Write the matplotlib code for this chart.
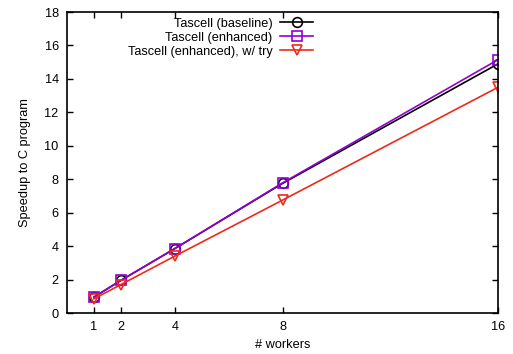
import matplotlib
matplotlib.use("Agg")
import matplotlib.pyplot as plt

plt.rcParams['font.family'] = ['Liberation Sans', 'DejaVu Sans']
plt.rcParams['font.size'] = 9.2

workers = [1, 2, 4, 8, 16]
baseline = [0.95, 1.95, 3.85, 7.75, 14.9]
enhanced = [0.95, 1.95, 3.85, 7.78, 15.15]
enhanced_try = [0.85, 1.7, 3.4, 6.75, 13.5]

fig = plt.figure(figsize=(5.13, 3.54), dpi=100)
ax = fig.add_axes([0.1306, 0.1158, 0.8402, 0.8502])

ax.plot(workers, baseline, color='black', lw=1.2, marker='o', ms=7,
        mfc='none', mew=1.2, label='Tascell (baseline)')
ax.plot(workers, enhanced, color='#9400d3', lw=1.2, marker='s', ms=7,
        mfc='none', mew=1.2, label='Tascell (enhanced)')
ax.plot(workers, enhanced_try, color='#ee2a1a', lw=1.2, marker='v', ms=7,
        mfc='none', mew=1.2, label='Tascell (enhanced), w/ try')

ax.set_xlim(0, 16)
ax.set_ylim(0, 18)
ax.set_xticks(workers)
ax.set_yticks(range(0, 19, 2))
ax.tick_params(direction='in', top=True, right=True, length=4, width=1,
               pad=6)
for s in ax.spines.values():
    s.set_linewidth(1.2)

ax.set_xlabel('# workers', labelpad=4)
ax.set_ylabel('Speedup to C program', labelpad=10)

ax.legend(loc='upper left', bbox_to_anchor=(0.12, 1.01), markerfirst=False,
          frameon=False, handlelength=2.6, handletextpad=0.6,
          labelspacing=0.15, borderaxespad=0.3)

fig.savefig('out.png', dpi=100)
